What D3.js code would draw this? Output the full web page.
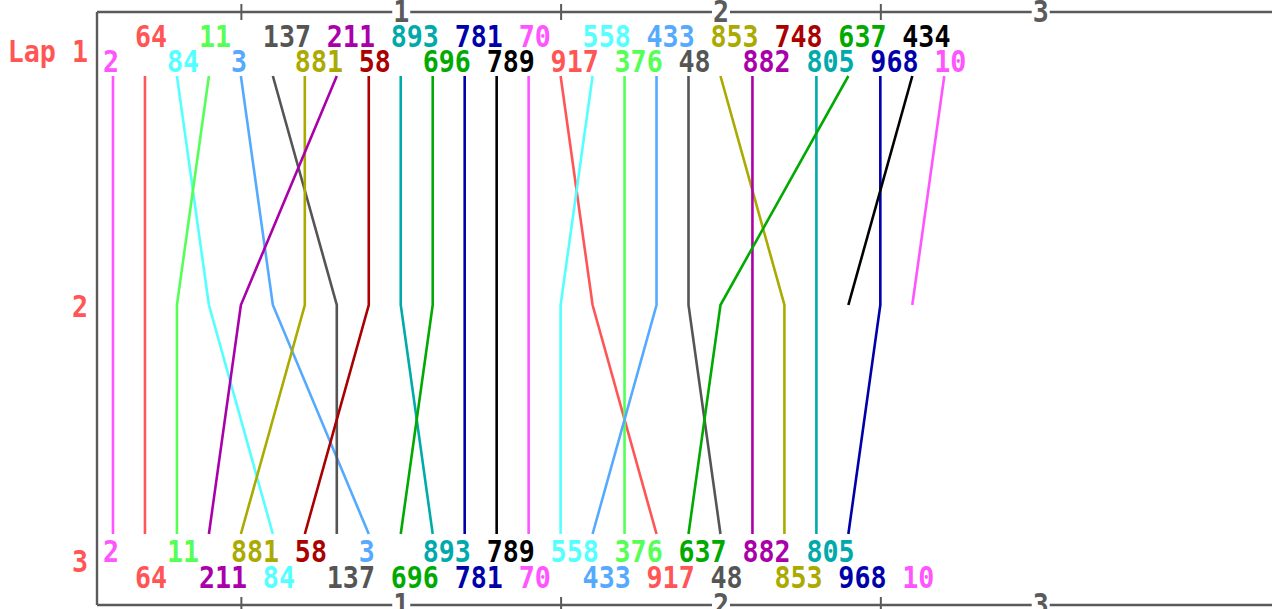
<!DOCTYPE html>
<html>
<head>
<meta charset="UTF-8">
<title>Lap chart</title>
<script src="https://d3js.org/d3.v7.min.js"></script>
<style>
  body { margin: 0; background: #fff; }
  svg text { font-family: "DejaVu Sans Mono", monospace; font-weight: bold; }
</style>
</head>
<body>
<svg width="1272" height="609"></svg>
<script>
// running order at the end of each lap (index 0 = first place, "" = empty slot)
const lap1 = ["2","64","84","11","3","137","881","211","58","893","696","781","789","70","917","558","376","433","48","853","882","748","805","637","968","434","10"];
const lap2 = ["2","64","11","84","211","3","881","137","58","893","696","781","789","70","558","917","376","433","48","637","882","853","805","434","968","10"];
const lap3 = ["2","64","11","211","881","84","58","137","3","696","893","781","789","70","558","433","376","917","637","48","882","853","805","968"];
// classification printed under the last lap
const finish = ["2","64","11","211","881","84","58","137","3","696","893","781","789","70","558","433","376","917","637","48","882","853","805","968","","10"];
const lapLabels = ["Lap 1", "2", "3"];
const xTicks = [0.5, 1, 1.5, 2, 2.5, 3];
const palette = ["#ff55ff","#ff5555","#55ffff","#55ff55","#55aaff","#555555","#aaaa00","#aa00aa","#aa0000","#00aaaa","#00aa00","#0000aa","#000000"];

const svg = d3.select("svg");
const axisColor = "#5a5a5a";
const fs = 30, sx = 0.89;

const x = d3.scaleLinear().domain([0.05, 3.725]).range([97, 1272]);
const y = d3.scaleLinear().domain([1, 3]).range([76, 534]);
const color = d3.scaleOrdinal().domain(lap1).range(palette);
const px = pos => x((pos + 1) / 10);   // pos is 0-based

const orders = [lap1, lap2, lap3];

// one path per car
const cars = lap1.map(car => ({
  car,
  pts: orders.map((o, i) => ({ lap: i + 1, pos: o.indexOf(car) })).filter(d => d.pos >= 0)
}));

const line = d3.line().x(d => px(d.pos)).y(d => y(d.lap));

svg.append("g")
  .selectAll("path")
  .data(cars.filter(c => c.pts.length > 1))
  .join("path")
  .attr("fill", "none")
  .attr("stroke", d => color(d.car))
  .attr("stroke-width", 2.6)
  .attr("d", d => line(d.pts));

function label(g, txt, tx, ty, fill, anchor) {
  g.append("text")
    .attr("transform", `translate(${tx},${ty}) scale(${sx},1)`)
    .attr("text-anchor", anchor || "start")
    .attr("font-size", fs)
    .attr("fill", fill)
    .text(txt);
}

// car numbers, staggered in two rows
const lbl = svg.append("g");
lap1.forEach((car, i) => {
  label(lbl, car, px(i) - 10, i % 2 === 0 ? y(1) - 4 : y(1) - 29, color(car));
});
finish.forEach((car, i) => {
  if (!car) return;
  label(lbl, car, px(i) - 10, i % 2 === 0 ? y(3) + 28 : y(3) + 54, color(car));
});

// lap labels on the left
const lapY = [y(1) - 14, y(2) + 12, y(3) + 38];
lapLabels.forEach((t, i) => label(lbl, t, 88, lapY[i], "#ff5555", "end"));

// top and bottom axes
function drawAxis(ypos, axisFn) {
  const g = svg.append("g")
    .attr("transform", `translate(0,${ypos})`)
    .call(axisFn(x).tickValues(xTicks).tickSize(0).tickSizeOuter(0)
      .tickFormat(d => Number.isInteger(d) ? d : ""));
  g.select(".domain").attr("stroke", axisColor).attr("stroke-width", 2.4)
    .attr("d", `M${x.range()[0]},0H1280`);
  g.selectAll(".tick").each(function(d) {
    const t = d3.select(this);
    t.select("line").remove();
    if (Number.isInteger(d)) {
      t.insert("rect", "text").attr("x", -9).attr("y", -10).attr("width", 18).attr("height", 22).attr("fill", "#fff");
      t.select("text").remove();
      label(t, d, 0, 10, axisColor, "middle");
    } else {
      t.append("line").attr("y1", -8).attr("y2", 8).attr("stroke", axisColor).attr("stroke-width", 2);
    }
  });
}
drawAxis(12, d3.axisTop);
drawAxis(605, d3.axisBottom);

// left border
svg.append("line")
  .attr("x1", 97).attr("x2", 97).attr("y1", 12).attr("y2", 605)
  .attr("stroke", axisColor).attr("stroke-width", 2.4);
</script>
</body>
</html>
